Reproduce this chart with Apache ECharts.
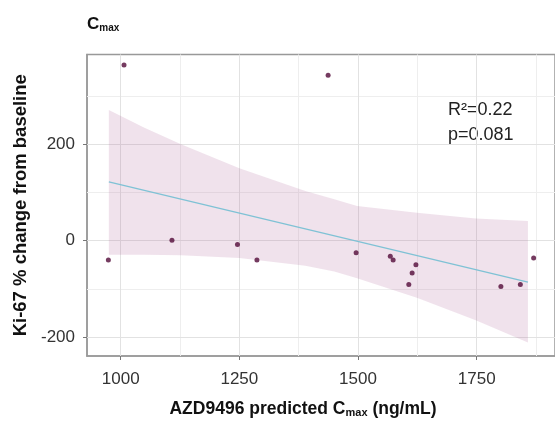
<!DOCTYPE html>
<html>
<head>
<meta charset="utf-8">
<script src="https://cdn.jsdelivr.net/npm/echarts@6/dist/echarts.min.js"></script>
<style>
  html, body { margin: 0; padding: 0; background: #ffffff; }
  #chart { width: 555px; height: 423px; }
</style>
</head>
<body>
<div id="chart"></div>
<script>
// Observed data: AZD9496 predicted Cmax (ng/mL) vs Ki-67 % change from baseline
const cmaxValues = [974, 1007, 1108, 1246, 1287, 1437, 1496, 1568, 1574, 1607, 1614, 1622, 1801, 1842, 1870];
const ki67Change = [-40, 364, 1, -8, -40, 343, -25, -32, -40, -91, -67, -50, -95, -91, -36];

// Fitted regression line (end points)
const fitX = [975, 1858];
const fitY = [122, -86];

// Confidence band edges
const bandX     = [975, 1050, 1127, 1250, 1389, 1450, 1498, 1624, 1748, 1858];
const bandUpper = [271, 234, 200, 150, 103, 86, 72, 58, 46, 41];
const bandLower = [-29, -29, -30, -36, -52, -64, -78, -118, -165, -211];

// Tick labels / grid positions
const xMajorTicks = [1000, 1250, 1500, 1750];
const xMinorTicks = [1125, 1375, 1625, 1875];
const yMajorTicks = [-200, 0, 200];
const yMinorTicks = [-100, 100, 300];

const annotationLines = ['R\u00b2=0.22', 'p=0.081'];

const FONT = '"Liberation Sans", Arial, Helvetica, sans-serif';
const MAJOR_GRID = '#e2e2e2';
const MINOR_GRID = '#eeeeee';

const chart = echarts.init(document.getElementById('chart'), null, { renderer: 'canvas' });

const scatterData = cmaxValues.map((x, i) => [x, ki67Change[i]]);
const lineData = fitX.map((x, i) => [x, fitY[i]]);

const gridMarkLines = []
  .concat(xMinorTicks.map(v => ({ xAxis: v, lineStyle: { color: MINOR_GRID, width: 1, type: 'solid' } })))
  .concat(yMinorTicks.map(v => ({ yAxis: v, lineStyle: { color: MINOR_GRID, width: 1, type: 'solid' } })))
  .concat(xMajorTicks.map(v => ({ xAxis: v, lineStyle: { color: MAJOR_GRID, width: 1, type: 'solid' } })))
  .concat(yMajorTicks.map(v => ({ yAxis: v, lineStyle: { color: MAJOR_GRID, width: 1, type: 'solid' } })));

const option = {
  backgroundColor: '#ffffff',
  animation: false,
  title: {
    text: '{c|C}{s|max}',
    left: 82,
    top: 10,
    textStyle: {
      rich: {
        c: { fontFamily: FONT, fontSize: 17, fontWeight: 'bold', color: '#111' },
        s: { fontFamily: FONT, fontSize: 10, fontWeight: 'bold', color: '#111', padding: [8, 0, 0, 0] }
      }
    }
  },
  grid: {
    left: 87,
    top: 54.5,
    width: 478,
    height: 304.8,
    show: true,
    borderColor: '#999999',
    borderWidth: 1.5,
    backgroundColor: 'transparent'
  },
  xAxis: {
    type: 'value',
    min: 929,
    max: 1915,
    position: 'bottom',
    axisLine: { show: true, onZero: false, lineStyle: { color: '#999999', width: 1.5 } },
    axisTick: { show: true, customValues: xMajorTicks, length: 4, lineStyle: { color: '#777', width: 1 } },
    axisLabel: {
      customValues: xMajorTicks,
      formatter: v => String(v),
      fontFamily: FONT, fontSize: 17, color: '#333', margin: 15
    },
    splitLine: { show: false },
    name: '{b|AZD9496 predicted C}{s|max}{b| (ng/mL)}',
    nameLocation: 'middle',
    nameGap: 44,
    nameTextStyle: {
      padding: [0, 36, 0, 0],
      rich: {
        b: { fontFamily: FONT, fontSize: 17.5, fontWeight: 'bold', color: '#111' },
        s: { fontFamily: FONT, fontSize: 11, fontWeight: 'bold', color: '#111', padding: [7, 0, 0, 0] }
      }
    }
  },
  yAxis: {
    type: 'value',
    min: -239,
    max: 386,
    position: 'left',
    axisLine: { show: true, onZero: false, lineStyle: { color: '#999999', width: 1.5 } },
    axisTick: { show: true, customValues: yMajorTicks, length: 4, lineStyle: { color: '#777', width: 1 } },
    axisLabel: {
      customValues: yMajorTicks,
      formatter: v => String(v),
      fontFamily: FONT, fontSize: 17, color: '#333', margin: 12
    },
    splitLine: { show: false },
    name: 'Ki-67 % change from baseline',
    nameLocation: 'middle',
    nameRotate: 90,
    nameGap: 38,
    nameTextStyle: { fontFamily: FONT, fontSize: 18.5, fontWeight: 'bold', color: '#111' }
  },
  graphic: [
    {
      type: 'text',
      left: 448,
      top: 98,
      style: {
        text: annotationLines.join('\n'),
        fontFamily: FONT,
        fontSize: 18,
        lineHeight: 25,
        fill: '#222'
      }
    }
  ],
  series: [
    {
      type: 'line',
      zlevel: 0,
      z: 0,
      data: [],
      silent: true,
      markLine: {
        silent: true,
        symbol: 'none',
        animation: false,
        label: { show: false },
        emphasis: { disabled: true },
        data: gridMarkLines
      }
    },
    {
      type: 'custom',
      zlevel: 1,
      z: 1,
      silent: true,
      data: [[bandX[0], bandUpper[0]]],
      renderItem: function (params, api) {
        const pts = [];
        for (let i = 0; i < bandX.length; i++) pts.push(api.coord([bandX[i], bandUpper[i]]));
        for (let i = bandX.length - 1; i >= 0; i--) pts.push(api.coord([bandX[i], bandLower[i]]));
        return {
          type: 'polygon',
          shape: { points: pts, smooth: 0 },
          style: { fill: 'rgba(170,95,150,0.18)', stroke: 'none' }
        };
      }
    },
    {
      type: 'line',
      zlevel: 2,
      z: 2,
      data: lineData,
      showSymbol: false,
      symbol: 'none',
      lineStyle: { color: '#7fc2d5', width: 1.4 }
    },
    {
      type: 'scatter',
      zlevel: 2,
      z: 3,
      data: scatterData,
      symbol: 'circle',
      symbolSize: 5,
      itemStyle: { color: '#520a38' }
    }
  ]
};

chart.setOption(option);
</script>
</body>
</html>
